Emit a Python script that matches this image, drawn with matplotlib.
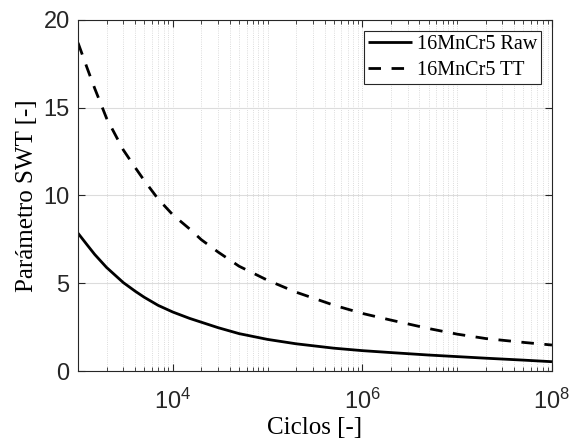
import numpy as np
import matplotlib
matplotlib.use("Agg")
import matplotlib.pyplot as plt
from matplotlib.ticker import LogLocator, FixedLocator, NullFormatter

# ---- data ----
cycles_raw = [1e3, 1.25e3, 1.5e3, 2e3, 3e3, 4e3, 5e3, 7e3, 1e4, 1.5e4, 2e4, 3e4,
              5e4, 1e5, 2e5, 5e5, 1e6, 2e6, 5e6, 1e7, 2e7, 5e7, 1e8]
swt_raw = [7.85, 7.18, 6.64, 5.90, 5.04, 4.55, 4.20, 3.74, 3.36, 3.00, 2.78, 2.47,
           2.13, 1.80, 1.55, 1.30, 1.16, 1.05, 0.91, 0.82, 0.73, 0.62, 0.53]

cycles_tt = [1e3, 1.25e3, 1.5e3, 2e3, 3e3, 4e3, 5e3, 7e3, 1e4, 1.5e4, 2e4, 3e4,
             5e4, 1e5, 2e5, 5e5, 1e6, 2e6, 5e6, 1e7, 2e7, 5e7, 1e8]
swt_tt = [18.7, 17.25, 16.1, 14.4, 12.6, 11.6, 10.85, 9.8, 8.9, 8.1, 7.48, 6.78,
          5.97, 5.17, 4.49, 3.75, 3.28, 2.90, 2.42, 2.10, 1.85, 1.63, 1.48]

series_labels = ["16MnCr5 Raw", "16MnCr5 TT"]
x_label = "Ciclos [-]"
y_label = "Parámetro SWT [-]"
x_ticks = [1e4, 1e6, 1e8]
y_ticks = [0, 5, 10, 15, 20]

# ---- figure ----
fig = plt.figure(figsize=(5.78, 4.44), dpi=100)
ax = fig.add_axes([0.135, 0.1644, 0.82, 0.7906])

ax.plot(cycles_raw, swt_raw, color="black", lw=2.0, solid_capstyle="butt",
        label=series_labels[0])
ax.plot(cycles_tt, swt_tt, color="black", lw=2.0, linestyle=(0, (4.5, 3.8)),
        label=series_labels[1])

ax.set_xscale("log")
ax.set_xlim(1e3, 1e8)
ax.set_ylim(0, 20)
ax.xaxis.set_major_locator(FixedLocator(x_ticks))
ax.xaxis.set_minor_locator(LogLocator(base=10, subs=np.arange(1, 10), numticks=50))
ax.xaxis.set_minor_formatter(NullFormatter())
ax.set_yticks(y_ticks)

edge = "#262626"
for s in ax.spines.values():
    s.set_color(edge)
    s.set_linewidth(0.8)

ax.tick_params(which="both", direction="in", top=True, right=True, colors=edge,
               labelcolor=edge, labelsize=17, labelfontfamily="Liberation Sans")
ax.tick_params(which="major", length=5, width=0.8)
ax.tick_params(which="minor", length=3, width=0.6)
ax.tick_params(axis="x", which="major", pad=13)
ax.tick_params(axis="y", which="major", pad=6)

# grid
ax.grid(axis="y", which="major", color="#dcdcdc", lw=0.8, linestyle="-")
ax.grid(axis="x", which="major", color="#d0d0d0", lw=0.6, linestyle=":")
ax.grid(axis="x", which="minor", color="#d0d0d0", lw=0.6, linestyle=":")
ax.set_axisbelow(True)

ax.set_xlabel(x_label, fontfamily="Liberation Serif", fontsize=18, labelpad=2)
ax.set_ylabel(y_label, fontfamily="Liberation Serif", fontsize=18, labelpad=4)

leg = ax.legend(loc="upper right", prop={"family": "Liberation Serif", "size": 14.5},
                fancybox=False, framealpha=1, edgecolor="#262626",
                borderpad=0.2, labelspacing=0.35, handlelength=2.15,
                handletextpad=0.25, borderaxespad=0.55)
leg.get_frame().set_linewidth(0.8)

fig.savefig("out.png", dpi=100)
